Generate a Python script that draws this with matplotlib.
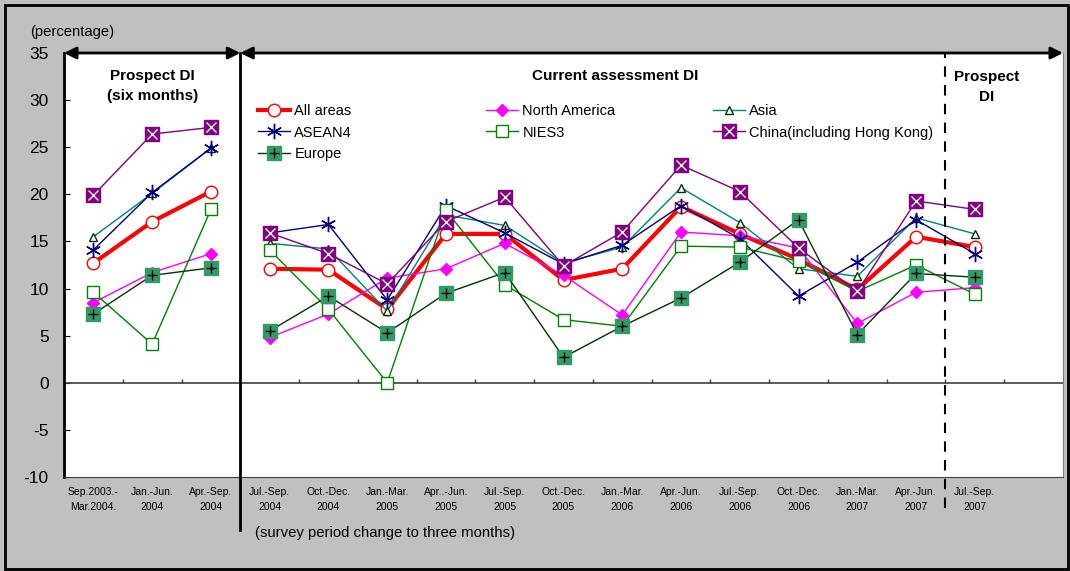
import numpy as np
import matplotlib.pyplot as plt
from matplotlib.patches import Rectangle
from matplotlib.lines import Line2D
from matplotlib.legend import Legend

plt.rcParams['font.family'] = ['Liberation Sans', 'DejaVu Sans']
plt.rcParams['axes.unicode_minus'] = False

# ---- data ----
periods = ["Sep.2003.-\nMar.2004.", "Jan.-Jun.\n2004", "Apr.-Sep.\n2004",
           "Jul.-Sep.\n2004", "Oct.-Dec.\n2004", "Jan.-Mar.\n2005", "Apr..-Jun.\n2005",
           "Jul.-Sep.\n2005", "Oct.-Dec.\n2005", "Jan.-Mar.\n2006", "Apr.-Jun.\n2006",
           "Jul.-Sep.\n2006", "Oct.-Dec.\n2006", "Jan.-Mar.\n2007", "Apr.-Jun.\n2007",
           "Jul.-Sep.\n2007"]

all_areas     = [12.7, 17.1, 20.3, 12.1, 12.0, 7.8, 15.8, 15.8, 10.9, 12.1, 18.7, 15.8, 13.1, 9.9, 15.5, 14.4]
north_america = [8.5, 11.7, 13.7, 4.8, 7.3, 11.1, 12.1, 14.8, 11.4, 7.2, 16.0, 15.6, 14.3, 6.3, 9.6, 10.1]
asia          = [15.5, 20.1, 24.9, 14.8, 14.2, 7.6, 17.8, 16.7, 12.7, 14.4, 20.7, 17.0, 12.1, 11.3, 17.5, 15.8]
asean4        = [14.1, 20.2, 24.9, 15.9, 16.8, 8.8, 18.8, 15.9, 12.6, 14.6, 18.8, 15.3, 9.2, 12.8, 17.3, 13.7]
nies3         = [9.6, 4.1, 18.4, 14.1, 7.8, 0.0, 18.3, 10.4, 6.7, 6.0, 14.5, 14.4, 12.9, 9.7, 12.5, 9.4]
china         = [19.9, 26.4, 27.1, 15.9, 13.7, 10.5, 17.1, 19.7, 12.4, 16.0, 23.1, 20.3, 14.3, 9.7, 19.3, 18.4]
europe        = [7.3, 11.4, 12.2, 5.5, 9.2, 5.3, 9.5, 11.7, 2.7, 6.0, 9.0, 12.8, 17.3, 5.1, 11.6, 11.2]

n_six = 3  # first three periods are six-month surveys

fig = plt.figure(figsize=(10.7, 5.71), dpi=100, facecolor='#c0c0c0')
fig.patches.append(Rectangle((0.005, 0.004), 0.993, 0.988, transform=fig.transFigure,
                             fill=False, edgecolor='black', lw=2))
ax = fig.add_axes([64/1070, 1 - 477/571, (1063 - 64)/1070, (477 - 53)/571])
ax.set_facecolor('white')

x = np.arange(len(periods))
seg = [slice(0, n_six), slice(n_six, len(periods))]

styles = [
    # label, data, line colour, lw, marker, size, face, edge, overlay marker, overlay colour
    ("All areas", all_areas, 'red', 3.0, 'o', 9, 'white', 'red', None, None),
    ("North America", north_america, '#ff00ff', 1.0, 'D', 6.5, '#ff00ff', '#ff00ff', None, None),
    ("Asia", asia, '#008080', 1.0, '^', 6, 'white', '#003300', None, None),
    ("ASEAN4", asean4, '#000080', 1.0, (6, 2, 0), 11, '#000080', '#000080', None, None),
    ("NIES3", nies3, '#008000', 1.0, 's', 8.5, 'white', '#008000', None, None),
    ("China(including Hong Kong)", china, '#800080', 1.0, 's', 10, '#800080', '#800080', 'x', 'white'),
    ("Europe", europe, '#003300', 1.0, 's', 10, '#339966', '#339966', '+', 'black'),
]

handles = {}
for label, vals, col, lw, mk, ms, fc, ec, ov, ovc in styles:
    vals = np.array(vals)
    for s in seg:
        ax.plot(x[s], vals[s], color=col, lw=lw, marker=mk, ms=ms,
                mfc=fc, mec=ec, mew=1.0, zorder=3)
        if ov:
            ax.plot(x[s], vals[s], ls='none', marker=ov, ms=ms * 0.7,
                    mec=ovc, mew=1.0, zorder=4)
    h = Line2D([], [], color=col, lw=lw, marker=mk, ms=ms, mfc=fc, mec=ec, mew=1.0)
    if ov:
        h = (h, Line2D([], [], ls='none', marker=ov, ms=ms * 0.7, mec=ovc, mew=1.0))
    handles[label] = h

ax.set_xlim(-0.5, len(periods) + 0.5)
ax.set_ylim(-10, 35)
ax.set_yticks(np.arange(-10, 36, 5))
ax.tick_params(axis='y', labelsize=12.5, direction='in', length=4, pad=11)
ax.set_xticks(x)
ax.set_xticklabels(periods, fontsize=7.5, linespacing=1.6)
ax.tick_params(axis='x', length=0, pad=7)

ax.spines['top'].set_visible(False)
ax.spines['left'].set_linewidth(2)
ax.spines['bottom'].set_color('#404040')
ax.spines['right'].set_color('#808080')

# zero line with tick marks at category boundaries
ax.axhline(0, color='#404040', lw=1.2, zorder=2)
ax.vlines(np.arange(-0.5, len(periods) + 0.5, 1), 0, 0.4, color='#404040', lw=1, zorder=2)

# separators
ax.axvline(n_six - 0.5, ymin=-0.125, ymax=1, color='black', lw=2, clip_on=False, zorder=5)
ax.axvline(len(periods) - 1.5, ymin=-0.073, ymax=1, color='black', lw=1.5,
           ls=(0, (5, 4)), clip_on=False, zorder=5)

# arrows on top
arrow_kw = dict(arrowstyle='<|-|>', color='black', lw=2, mutation_scale=18, shrinkA=0, shrinkB=0)
ax.annotate('', xy=(-0.5, 35), xytext=(n_six - 0.5, 35), arrowprops=arrow_kw, annotation_clip=False)
ax.annotate('', xy=(n_six - 0.5, 35), xytext=(len(periods) + 0.5, 35), arrowprops=arrow_kw,
            annotation_clip=False)

ax.text(1, 31.5, "Prospect DI\n(six months)", ha='center', va='center',
        fontsize=11, fontweight='bold', linespacing=1.5)
ax.text(8.88, 32.55, "Current assessment DI", ha='center', va='center',
        fontsize=11, fontweight='bold')
ax.text(15.2, 31.4, "Prospect\nDI", ha='center', va='center',
        fontsize=11, fontweight='bold', linespacing=1.5)

fig.text(30/1070, 1 - 32/571, "(percentage)", fontsize=10.6, va='center')
fig.text(255/1070, 1 - 533/571, "(survey period change to three months)", fontsize=10.7, va='center')

# legend in three blocks
cols = [["All areas", "ASEAN4", "Europe"],
        ["North America", "NIES3"],
        ["Asia", "China(including Hong Kong)"]]
lx = [258, 486, 713]
for names, px in zip(cols, lx):
    leg = Legend(ax, [handles[n] for n in names], names, loc='upper left',
                 bbox_to_anchor=(px/1070, 1 - 104/571), bbox_transform=fig.transFigure,
                 frameon=False, fontsize=10.5, handlelength=2.2, handletextpad=0.3,
                 labelspacing=0.52, borderaxespad=0, borderpad=0)
    ax.add_artist(leg)

fig.savefig('out.png', dpi=100, facecolor=fig.get_facecolor())
